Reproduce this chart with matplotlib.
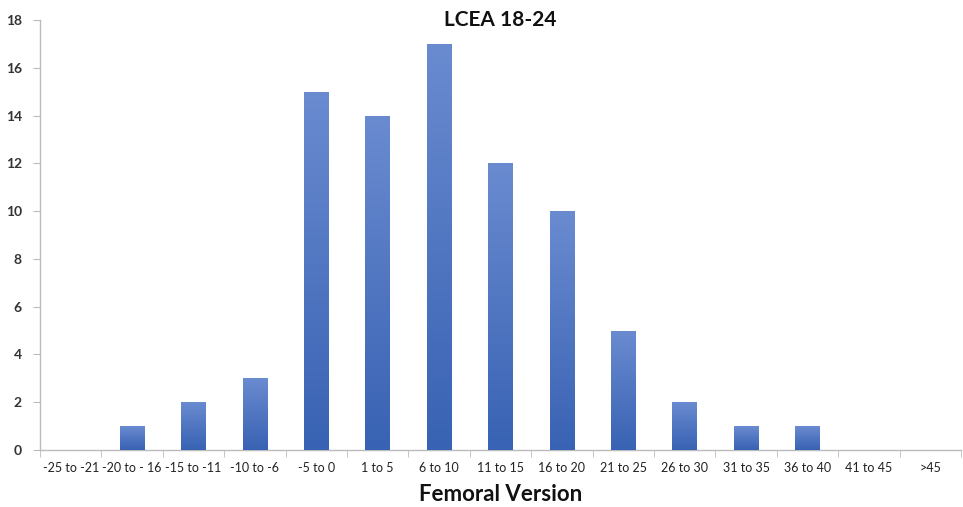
import numpy as np
import matplotlib
matplotlib.use("Agg")
import matplotlib.pyplot as plt
from matplotlib.colors import LinearSegmentedColormap

plt.rcParams['font.family'] = ['Lato', 'DejaVu Sans']

categories = ["-25 to -21", "-20 to - 16", "-15 to -11", "-10 to -6", "-5 to 0",
              "1 to 5", "6 to 10", "11 to 15", "16 to 20", "21 to 25",
              "26 to 30", "31 to 35", "36 to 40", "41 to 45", ">45"]
counts = [0, 1, 2, 3, 15, 14, 17, 12, 10, 5, 2, 1, 1, 0, 0]
yticks = [0, 2, 4, 6, 8, 10, 12, 14, 16, 18]

fig = plt.figure(figsize=(9.63, 5.07), dpi=100)
ax = fig.add_axes([40/963, 1-450/507, 1-40/963-2/963, (450-20)/507])

x = np.arange(len(categories))
bars = ax.bar(x, counts, width=0.4, color='#4a70c0', zorder=2)

cmap = LinearSegmentedColormap.from_list('g', ['#3862b3', '#6a8bd0'])
grad = np.linspace(0, 1, 256).reshape(-1, 1)
for b in bars:
    h = b.get_height()
    if h <= 0:
        continue
    x0 = b.get_x(); w = b.get_width()
    im = ax.imshow(grad, extent=[x0, x0 + w, 0, h], origin='lower', cmap=cmap,
                   aspect='auto', zorder=3)
    im.set_clip_path(b)

ax.set_xlim(-0.5, len(categories) - 0.5)
ax.set_ylim(0, 18)
ax.set_yticks(yticks)
ax.set_yticklabels([str(v) for v in yticks], fontsize=10, fontweight='bold', color='#333333')
ax.set_xticks(x)
ax.set_xticklabels(categories, fontsize=9, color='#222222')
ax.tick_params(axis='x', length=0, pad=9)
ax.set_xticks(np.arange(-0.5, len(categories), 1), minor=True)
ax.tick_params(axis='x', which='minor', length=5, color='#bbbbbb', direction='out')
ax.tick_params(axis='y', length=5, color='#bbbbbb', pad=8)

for s in ['top', 'right']:
    ax.spines[s].set_visible(False)
for s in ['left', 'bottom']:
    ax.spines[s].set_color('#bbbbbb')
    ax.spines[s].set_linewidth(1)

ax.set_title("LCEA 18-24", fontsize=15, fontweight='bold', color='#111111', pad=-4, y=1.0)
ax.set_xlabel("Femoral Version", fontsize=16, fontweight='bold', color='#111111', labelpad=7)

fig.savefig("out.png", dpi=100)
